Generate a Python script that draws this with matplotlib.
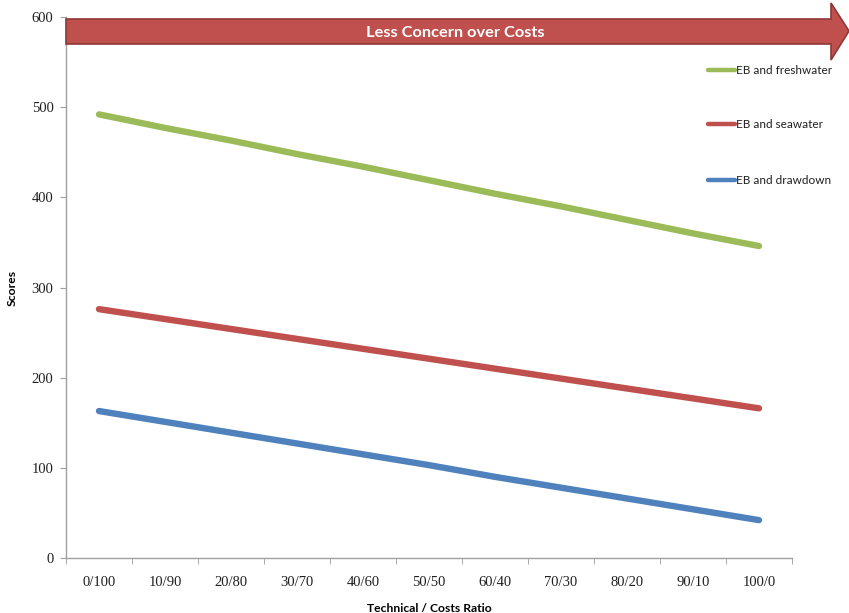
import matplotlib
matplotlib.use("Agg")
import matplotlib.pyplot as plt
from matplotlib.patches import Polygon
from matplotlib.lines import Line2D

ratios = ["0/100", "10/90", "20/80", "30/70", "40/60", "50/50",
          "60/40", "70/30", "80/20", "90/10", "100/0"]
freshwater = [492, 477, 463, 448, 434, 419, 404, 390, 375, 360, 346]
seawater = [276, 265, 254, 243, 232, 221, 210, 199, 188, 177, 166]
drawdown = [163, 151, 139, 127, 115, 103, 90, 78, 66, 54, 42]

series = [
    ("EB and freshwater", freshwater, "#9BBB59"),
    ("EB and seawater", seawater, "#C0504D"),
    ("EB and drawdown", drawdown, "#4F81BD"),
]

W, H = 849, 613
fig = plt.figure(figsize=(W / 100, H / 100), dpi=100)

def fx(px):
    return px / W

def fy(py):
    return 1 - py / H

ax = fig.add_axes([fx(66), fy(558), (792 - 66) / W, (558 - 17) / H])

x = list(range(len(ratios)))
for name, vals, col in series:
    ax.plot(x, vals, color=col, lw=4.6, solid_capstyle="round", label=name)

ax.set_xlim(-0.5, len(ratios) - 0.5)
ax.set_ylim(0, 600)
ax.set_yticks(range(0, 601, 100))
ax.set_xticks(x)
ax.set_xticklabels(ratios)
ax.set_xticks([i - 0.5 for i in range(len(ratios) + 1)], minor=True)
ax.tick_params(axis="x", which="major", length=0, pad=13)
ax.tick_params(axis="x", which="minor", length=4, color="#A0A0A0", direction="out")
ax.tick_params(axis="y", length=4, color="#A0A0A0", direction="out", pad=5)
for lab in ax.get_xticklabels() + ax.get_yticklabels():
    lab.set_fontfamily("Liberation Serif")
    lab.set_fontsize(10.5)
    lab.set_color("#202020")

for s in ("top", "right"):
    ax.spines[s].set_visible(False)
for s in ("left", "bottom"):
    ax.spines[s].set_color("#A0A0A0")
    ax.spines[s].set_linewidth(1.0)

ax.set_xlabel("Technical / Costs Ratio", fontfamily="Lato", fontweight="bold",
              fontsize=8.7, labelpad=10)
ax.set_ylabel("Scores", fontfamily="Lato", fontweight="bold", fontsize=8.7)
ax.yaxis.set_label_coords((18 - 66) / 726, 0.5)

# direction arrow across the top of the plot
arrow_pts = [(66, 19), (831, 19), (831, 3), (849, 31), (831, 60),
             (831, 44), (66, 44)]
arrow = Polygon([(fx(px), fy(py)) for px, py in arrow_pts], closed=True,
                transform=fig.transFigure, facecolor="#C0504D",
                edgecolor="#8C3836", lw=1.2, zorder=5)
fig.patches.append(arrow)
fig.text(fx(455), fy(33), "Less Concern over Costs", color="white",
         fontfamily="Lato", fontweight="bold", fontsize=11.8,
         ha="center", va="center", zorder=6)

# legend entries placed to the right of the lines
legend_y = [70, 124, 180]
for (name, vals, col), py in zip(series, legend_y):
    fig.add_artist(Line2D([fx(708), fx(735)], [fy(py), fy(py)], color=col,
                          lw=3.2, solid_capstyle="round",
                          transform=fig.transFigure))
    fig.text(fx(736), fy(py), name, fontfamily="Lato", fontsize=8.5,
             color="#202020", ha="left", va="center")

fig.savefig("out.png", dpi=100)
